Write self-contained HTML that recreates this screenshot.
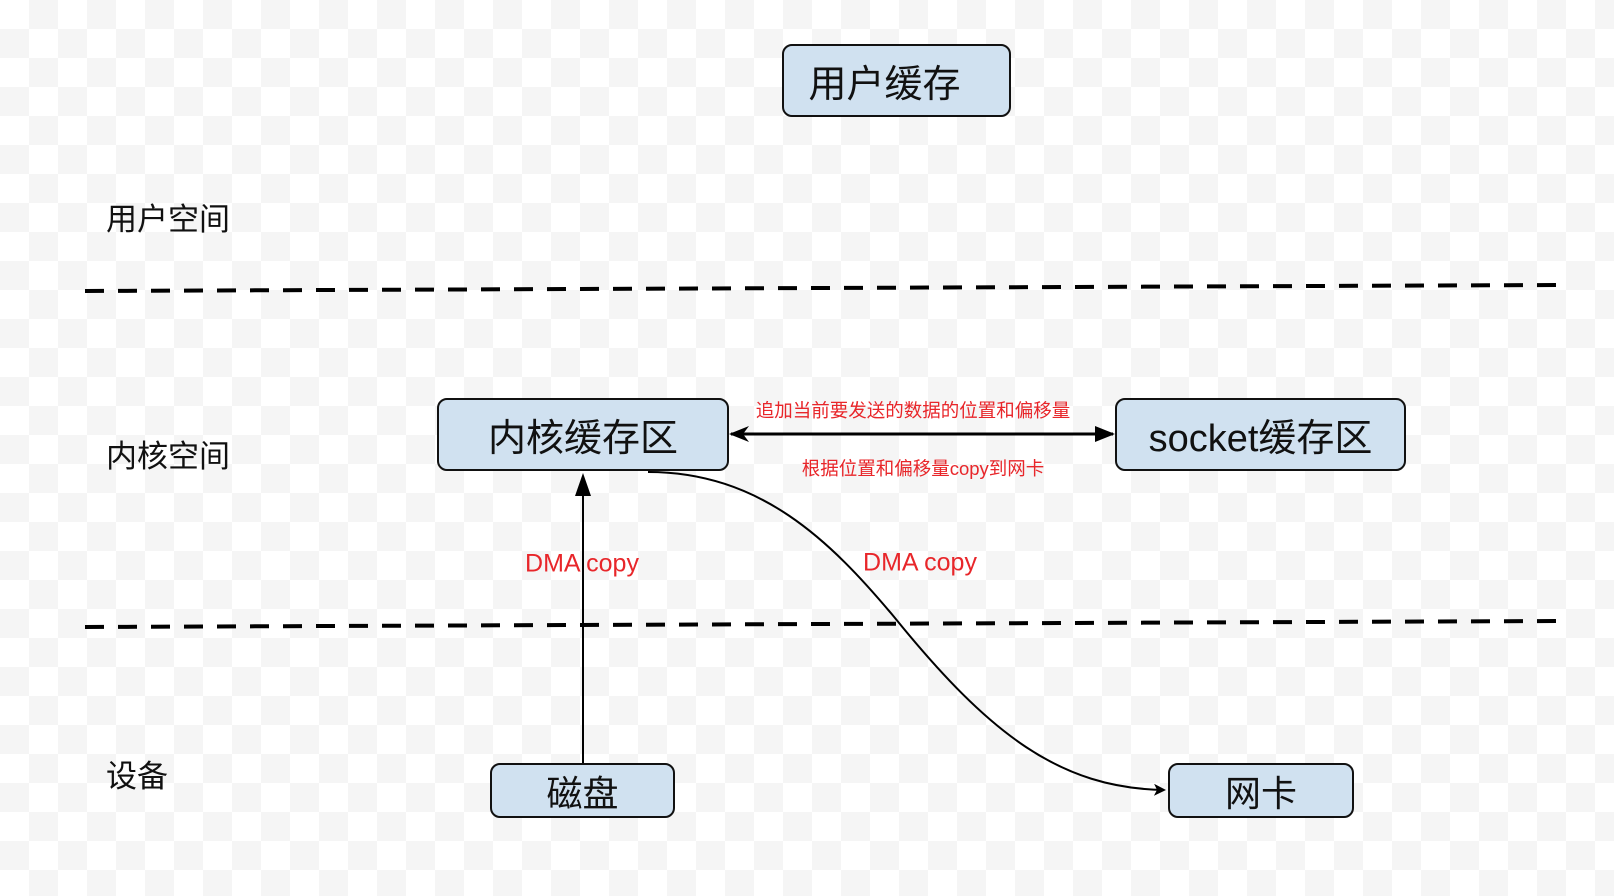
<!DOCTYPE html>
<html><head><meta charset="utf-8"><style>
html,body{margin:0;padding:0}
body{width:1614px;height:896px;overflow:hidden;position:relative;font-family:"Liberation Sans","Noto Sans CJK SC",sans-serif;
background-color:#fff;
background-image:linear-gradient(45deg,#f5f5f5 25%,transparent 25%,transparent 75%,#f5f5f5 75%),linear-gradient(45deg,#f5f5f5 25%,transparent 25%,transparent 75%,#f5f5f5 75%);
background-size:58px 58px;background-position:0 0,29px 29px;}
.box{position:absolute;box-sizing:border-box;background:#d0e1f0;border:2.5px solid #111;border-radius:10px;display:flex;align-items:center;justify-content:center;color:#111}
.lbl{position:absolute;font-size:31px;color:#111;line-height:1}
.r{position:absolute;color:#e8262a;white-space:nowrap;transform:translate(-50%,-50%);line-height:1}
</style></head><body>
<svg width="1614" height="896" style="position:absolute;left:0;top:0">
<defs>
<marker id="a" markerWidth="12" markerHeight="12" refX="10" refY="6" orient="auto" markerUnits="userSpaceOnUse"><path d="M0,0 L12,6 L0,12 L3,6 Z" fill="#000"/></marker>
<marker id="b" markerWidth="20" markerHeight="16" refX="18" refY="8" orient="auto" markerUnits="userSpaceOnUse"><path d="M0,0 L20,8 L0,16 Z" fill="#000"/></marker>
<marker id="c" markerWidth="20" markerHeight="16" refX="2" refY="8" orient="auto" markerUnits="userSpaceOnUse"><path d="M20,0 L0,8 L20,16 L14,8 Z" fill="#000"/></marker>
</defs>
<line x1="85" y1="291" x2="1556" y2="285" stroke="#000" stroke-width="4" stroke-dasharray="19,14"/>
<line x1="85" y1="627" x2="1556" y2="621" stroke="#000" stroke-width="4" stroke-dasharray="19,14"/>
<line x1="731" y1="434" x2="1113" y2="434" stroke="#000" stroke-width="3" marker-end="url(#b)" marker-start="url(#c)"/>
<line x1="583" y1="763" x2="583" y2="476" stroke="#000" stroke-width="2"/>
<path d="M583,473 L575,496 L591,496 Z" fill="#000"/>
<path d="M648,472 C760,472 830,540 895,618 C990,735 1060,788 1164,790" fill="none" stroke="#000" stroke-width="2" marker-end="url(#a)"/>
</svg>
<div class="box" style="left:782px;top:44px;width:229px;height:73px;font-size:38px;padding-right:24px">用户缓存</div>
<div class="box" style="left:437px;top:398px;width:292px;height:73px;font-size:38px">内核缓存区</div>
<div class="box" style="left:1115px;top:398px;width:291px;height:73px;font-size:38px">socket缓存区</div>
<div class="box" style="left:490px;top:763px;width:185px;height:55px;font-size:36px">磁盘</div>
<div class="box" style="left:1168px;top:763px;width:186px;height:55px;font-size:36px">网卡</div>
<div class="lbl" style="left:106px;top:204px">用户空间</div>
<div class="lbl" style="left:106px;top:441px">内核空间</div>
<div class="lbl" style="left:106px;top:761px">设备</div>
<div class="r" style="left:913px;top:411px;font-size:18.5px">追加当前要发送的数据的位置和偏移量</div>
<div class="r" style="left:923px;top:469px;font-size:18.5px">根据位置和偏移量copy到网卡</div>
<div class="r" style="left:582px;top:564px;font-size:25px">DMA copy</div>
<div class="r" style="left:920px;top:563px;font-size:25px">DMA copy</div>
</body></html>
